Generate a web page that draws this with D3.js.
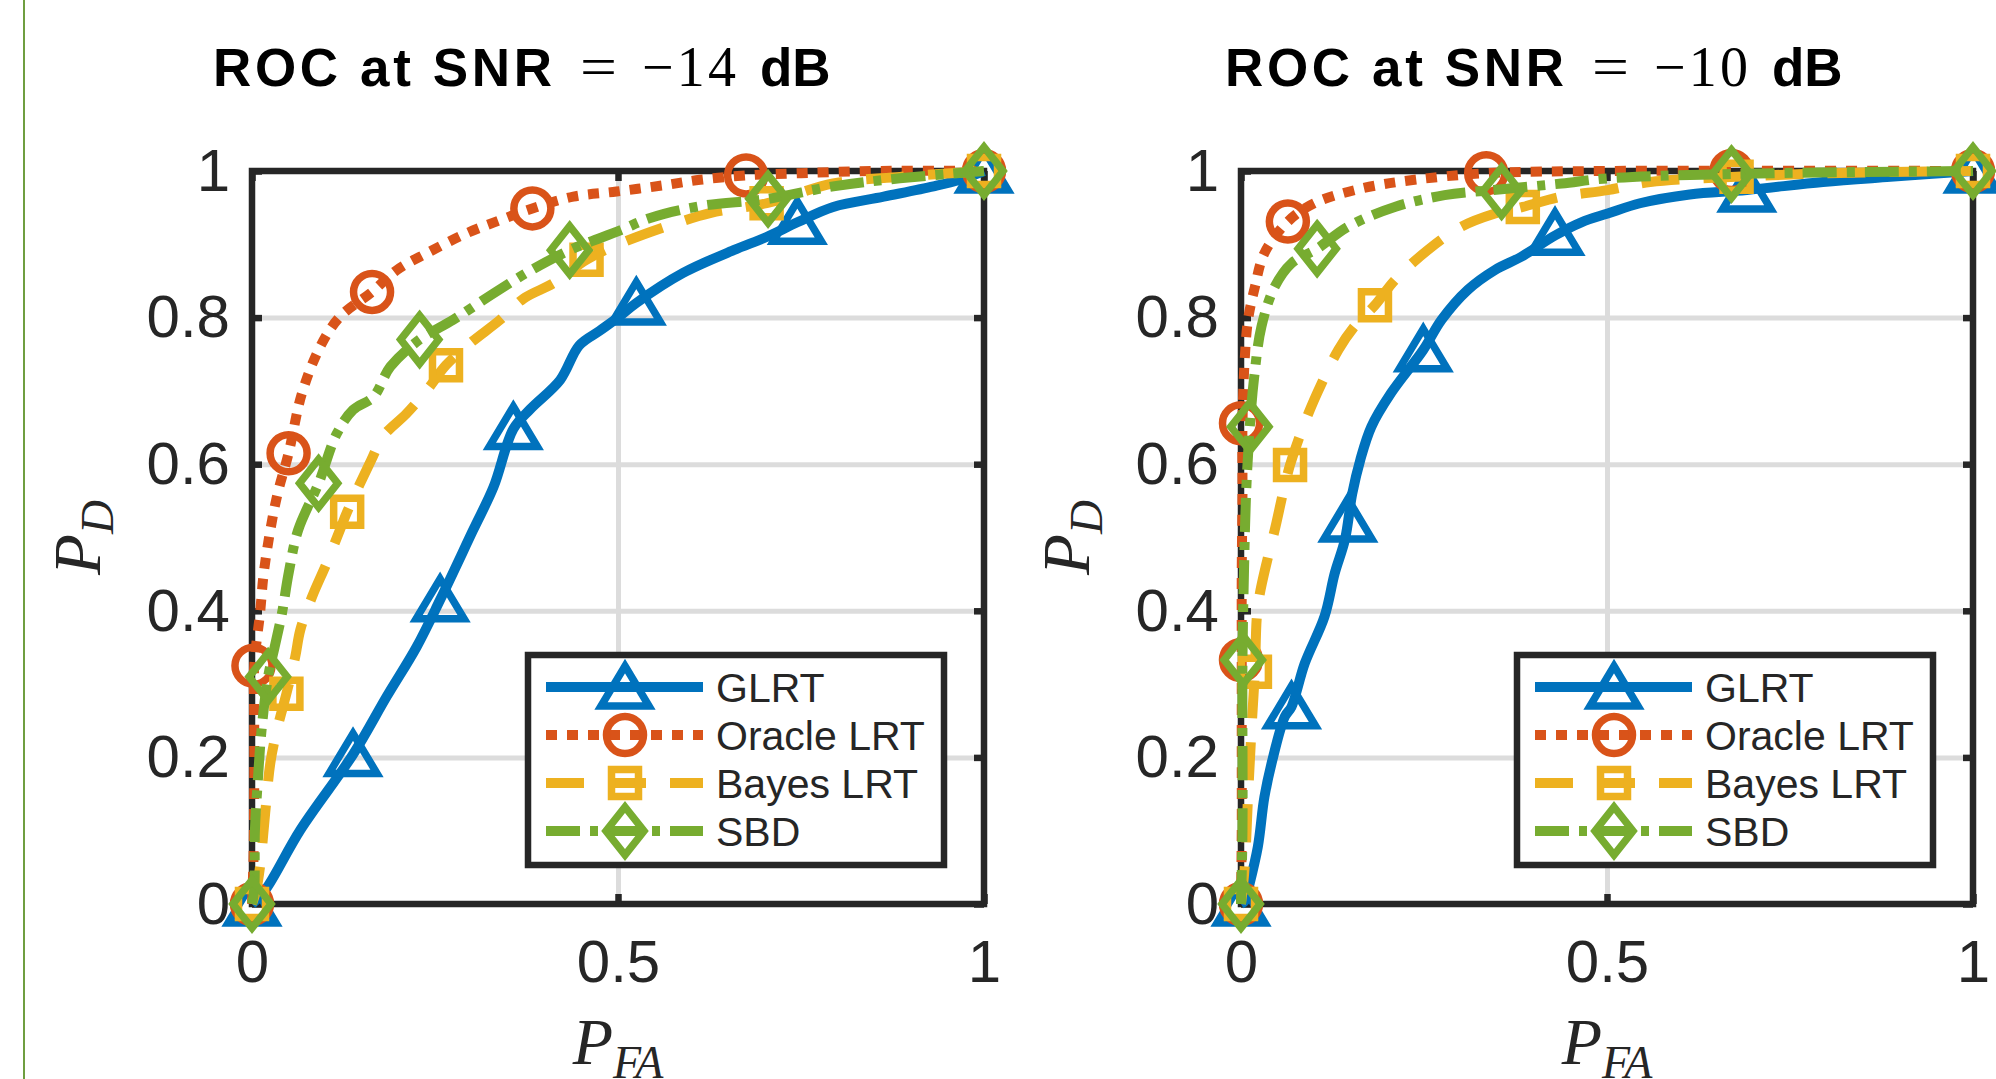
<!DOCTYPE html>
<html>
<head>
<meta charset="utf-8">
<script src="https://cdn.jsdelivr.net/npm/d3@7"></script>
<style>
  body { margin: 0; background: #fff; }
  svg { display: block; }
</style>
</head>
<body>
<script>
// ---- data (P_FA, P_D) ----
const seriesNames = ["GLRT", "Oracle LRT", "Bayes LRT", "SBD"];
const titleSnr = ["\u221214", "\u221210"];
const xTicks = [0, 0.5, 1];
const xTickLabels = ["0", "0.5", "1"];
const yTicks = [0, 0.2, 0.4, 0.6, 0.8, 1];
const yTickLabels = ["0", "0.2", "0.4", "0.6", "0.8", "1"];

// SNR = -14 dB
const glrt14 = [[0,0],[0.018,0.019],[0.066,0.101],[0.138,0.204],[0.184,0.283],[0.225,0.351],[0.257,0.415],[0.302,0.51],[0.33,0.569],[0.357,0.648],[0.38,0.675],[0.421,0.715],[0.447,0.762],[0.475,0.782],[0.5,0.8],[0.525,0.82],[0.589,0.861],[0.658,0.892],[0.703,0.91],[0.745,0.93],[0.794,0.951],[0.863,0.965],[0.931,0.979],[0.967,0.988],[1,1]];
const glrt14Marks = [[0,0],[0.138,0.204],[0.257,0.415],[0.357,0.65],[0.525,0.82],[0.745,0.93],[1,1]];
const oracle14 = [[0,0],[0.002,0.06],[0.003,0.15],[0.003,0.255],[0.003,0.325],[0.011,0.397],[0.016,0.451],[0.025,0.51],[0.035,0.56],[0.05,0.615],[0.068,0.696],[0.093,0.76],[0.12,0.801],[0.164,0.835],[0.198,0.865],[0.239,0.888],[0.293,0.915],[0.339,0.933],[0.383,0.949],[0.439,0.965],[0.498,0.972],[0.566,0.981],[0.612,0.988],[0.675,0.994],[0.75,0.997],[0.85,1],[1,1]];
const oracle14Marks = [[0,0],[0.002,0.325],[0.05,0.615],[0.164,0.835],[0.383,0.949],[0.675,0.994],[1,1]];
const bayes14 = [[0,0],[0.006,0.02],[0.011,0.051],[0.018,0.124],[0.025,0.192],[0.034,0.237],[0.047,0.287],[0.059,0.337],[0.066,0.374],[0.082,0.419],[0.102,0.465],[0.12,0.51],[0.13,0.535],[0.163,0.606],[0.179,0.638],[0.211,0.669],[0.239,0.701],[0.265,0.735],[0.298,0.765],[0.339,0.797],[0.371,0.826],[0.412,0.847],[0.457,0.879],[0.503,0.901],[0.58,0.929],[0.627,0.943],[0.703,0.956],[0.794,0.983],[0.885,0.992],[1,1]];
const bayes14Marks = [[0,0],[0.047,0.287],[0.13,0.535],[0.265,0.735],[0.457,0.879],[0.703,0.956],[1,1]];
const sbd14 = [[0,0],[0.003,0.019],[0.004,0.101],[0.008,0.169],[0.013,0.237],[0.022,0.31],[0.031,0.351],[0.041,0.397],[0.05,0.451],[0.063,0.51],[0.091,0.574],[0.116,0.642],[0.138,0.674],[0.166,0.692],[0.189,0.733],[0.229,0.77],[0.275,0.797],[0.33,0.833],[0.375,0.861],[0.434,0.892],[0.503,0.919],[0.544,0.936],[0.612,0.952],[0.705,0.962],[0.794,0.979],[0.885,0.99],[1,1]];
const sbd14Marks = [[0,0],[0.022,0.31],[0.091,0.574],[0.229,0.77],[0.434,0.892],[0.705,0.962],[1,1]];

// SNR = -10 dB
const glrt10 = [[0,0],[0.006,0.005],[0.0096,0.019],[0.023,0.078],[0.032,0.146],[0.044,0.201],[0.06,0.256],[0.069,0.269],[0.087,0.328],[0.114,0.392],[0.128,0.451],[0.142,0.497],[0.152,0.56],[0.163,0.606],[0.178,0.651],[0.205,0.697],[0.249,0.756],[0.274,0.797],[0.31,0.838],[0.347,0.865],[0.383,0.883],[0.429,0.912],[0.465,0.93],[0.501,0.942],[0.545,0.956],[0.613,0.968],[0.691,0.974],[0.795,0.985],[0.887,0.992],[1,1]];
const glrt10Marks = [[0,0],[0.069,0.269],[0.146,0.524],[0.249,0.756],[0.429,0.915],[0.691,0.974],[1,1]];
const oracle10 = [[0,0],[0.001,0.1],[0.001,0.2],[0.001,0.333],[0.001,0.45],[0.002,0.561],[0.002,0.656],[0.005,0.742],[0.0096,0.797],[0.019,0.842],[0.032,0.888],[0.064,0.931],[0.1,0.956],[0.164,0.976],[0.237,0.988],[0.335,0.997],[0.5,1],[1,1]];
const oracle10Marks = [[0,0],[0,0.333],[0,0.656],[0.064,0.931],[0.335,0.997],[0.67,1],[1,1]];
const bayes10 = [[0,0],[0.005,0.05],[0.0096,0.146],[0.015,0.25],[0.019,0.317],[0.023,0.406],[0.037,0.474],[0.046,0.51],[0.067,0.599],[0.092,0.669],[0.11,0.71],[0.133,0.756],[0.155,0.788],[0.183,0.817],[0.21,0.851],[0.255,0.892],[0.301,0.924],[0.347,0.942],[0.385,0.951],[0.438,0.965],[0.501,0.974],[0.559,0.985],[0.677,0.992],[0.8,0.997],[1,1]];
const bayes10Marks = [[0,0],[0.019,0.317],[0.067,0.599],[0.183,0.817],[0.385,0.951],[0.677,0.992],[1,1]];
const sbd10 = [[0,0],[0.002,0.1],[0.002,0.333],[0.004,0.45],[0.007,0.561],[0.012,0.651],[0.018,0.719],[0.028,0.788],[0.046,0.842],[0.069,0.874],[0.104,0.894],[0.146,0.924],[0.21,0.951],[0.278,0.967],[0.356,0.975],[0.438,0.983],[0.501,0.99],[0.67,0.996],[1,1]];
const sbd10Marks = [[0,0],[0.003,0.333],[0.012,0.651],[0.104,0.894],[0.356,0.972],[0.67,0.996],[1,1]];

// ---- styling ----
const colors = ["#0072BD", "#D95319", "#EDB120", "#77AC30"];
const dashes = [null, "11,10", "38,24", "34,10,8,10"];
const markerTypes = ["triangle", "circle", "square", "diamond"];
const axisColor = "#262626";
const gridColor = "#dcdcdc";
const sans = "'Liberation Sans', Arial, Helvetica, sans-serif";
const serif = "'Liberation Serif', 'Times New Roman', serif";

const width = 1996, height = 1079;
const plotTop = 171, plotH = 733, plotW = 732;

const svg = d3.select("body").append("svg")
  .attr("width", width)
  .attr("height", height);

svg.append("rect").attr("width", width).attr("height", height).attr("fill", "#fff");

// thin green rule at the left edge
svg.append("line")
  .attr("x1", 24).attr("x2", 24).attr("y1", 0).attr("y2", height)
  .attr("stroke", "#6f9e40").attr("stroke-width", 2);

function markerPath(type) {
  if (type === "triangle") return "M0,-21L24,19L-24,19Z";
  if (type === "square") return "M-13.5,-13.5H13.5V13.5H-13.5Z";
  return "M0,-24L19,0L0,24L-19,0Z";
}
function drawMarker(sel, type, color) {
  const m = type === "circle"
    ? sel.append("circle").attr("r", 18.5)
    : sel.append("path").attr("d", markerPath(type));
  m.attr("fill", "none")
    .attr("stroke", color)
    .attr("stroke-width", 7.5)
    .attr("stroke-linejoin", "miter");
}

const panels = [
  {left: 252, titleX: 213, snr: titleSnr[0],
   curves: [glrt14, oracle14, bayes14, sbd14],
   marks: [glrt14Marks, oracle14Marks, bayes14Marks, sbd14Marks]},
  {left: 1241, titleX: 1225, snr: titleSnr[1],
   curves: [glrt10, oracle10, bayes10, sbd10],
   marks: [glrt10Marks, oracle10Marks, bayes10Marks, sbd10Marks]}
];

panels.forEach(p => {
  const x = d3.scaleLinear().domain([0, 1]).range([p.left, p.left + plotW]);
  const y = d3.scaleLinear().domain([0, 1]).range([plotTop + plotH, plotTop]);
  const g = svg.append("g");

  // grid
  g.append("g")
    .attr("transform", `translate(0,${plotTop + plotH})`)
    .call(d3.axisBottom(x).tickValues(xTicks).tickSize(-plotH).tickFormat(""))
    .call(a => a.select(".domain").remove())
    .selectAll("line").attr("stroke", gridColor).attr("stroke-width", 5);
  g.append("g")
    .attr("transform", `translate(${p.left},0)`)
    .call(d3.axisLeft(y).tickValues(yTicks).tickSize(-plotW).tickFormat(""))
    .call(a => a.select(".domain").remove())
    .selectAll("line").attr("stroke", gridColor).attr("stroke-width", 5);

  // box
  g.append("rect")
    .attr("x", p.left).attr("y", plotTop)
    .attr("width", plotW).attr("height", plotH)
    .attr("fill", "none").attr("stroke", axisColor).attr("stroke-width", 6.5);

  // ticks (inward) and labels
  const styleAxis = a => {
    a.select(".domain").remove();
    a.selectAll("line").attr("stroke", axisColor).attr("stroke-width", 6.5);
    a.selectAll("text")
      .attr("font-family", sans).attr("font-size", 60).attr("fill", axisColor);
  };
  g.append("g")
    .attr("transform", `translate(0,${plotTop + plotH})`)
    .call(d3.axisBottom(x).tickValues(xTicks).tickSize(-10).tickPadding(35)
      .tickFormat((d, i) => xTickLabels[i]))
    .call(styleAxis);
  g.append("g")
    .attr("transform", `translate(${p.left},0)`)
    .call(d3.axisLeft(y).tickValues(yTicks).tickSize(-10).tickPadding(22)
      .tickFormat((d, i) => yTickLabels[i]))
    .call(styleAxis);
  g.append("g")
    .attr("transform", `translate(0,${plotTop})`)
    .call(d3.axisTop(x).tickValues(xTicks).tickSize(-10).tickFormat(""))
    .call(styleAxis);
  g.append("g")
    .attr("transform", `translate(${p.left + plotW},0)`)
    .call(d3.axisRight(y).tickValues(yTicks).tickSize(-10).tickFormat(""))
    .call(styleAxis);

  // curves
  const line = d3.line()
    .x(d => x(d[0]))
    .y(d => y(d[1]))
    .curve(d3.curveCatmullRom.alpha(0.5));

  p.curves.forEach((c, i) => {
    g.append("path")
      .datum(c)
      .attr("d", line)
      .attr("fill", "none")
      .attr("stroke", colors[i])
      .attr("stroke-width", 10)
      .attr("stroke-linejoin", "round")
      .attr("stroke-dasharray", dashes[i]);
    g.selectAll(null)
      .data(p.marks[i])
      .enter()
      .append("g")
      .attr("transform", d => `translate(${x(d[0])},${y(d[1])})`)
      .each(function() { drawMarker(d3.select(this), markerTypes[i], colors[i]); });
  });

  // title: sans bold words, serif math for "= -14"
  const t = g.append("text").attr("y", 86).attr("fill", "#000");
  t.append("tspan").attr("x", p.titleX)
    .attr("font-family", sans).attr("font-weight", "bold").attr("font-size", 53)
    .attr("textLength", 339).attr("lengthAdjust", "spacing")
    .text("ROC at SNR");
  t.append("tspan").attr("x", p.titleX + 367)
    .attr("font-family", serif).attr("font-size", 56)
    .attr("textLength", 37).attr("lengthAdjust", "spacingAndGlyphs")
    .text("=");
  t.append("tspan").attr("x", p.titleX + 429)
    .attr("font-family", serif).attr("font-size", 56)
    .attr("textLength", 94).attr("lengthAdjust", "spacing")
    .text(p.snr);
  t.append("tspan").attr("x", p.titleX + 547)
    .attr("font-family", sans).attr("font-weight", "bold").attr("font-size", 53)
    .text("dB");

  // axis labels
  const xl = g.append("text")
    .attr("x", p.left + plotW / 2).attr("y", 1064)
    .attr("text-anchor", "middle")
    .attr("font-family", serif).attr("font-style", "italic").attr("font-size", 66)
    .attr("fill", axisColor);
  xl.append("tspan").text("P");
  xl.append("tspan").attr("font-size", 46).attr("dy", 14).text("FA");

  const yl = g.append("text")
    .attr("transform", `translate(${p.left - 152},${plotTop + plotH / 2}) rotate(-90)`)
    .attr("text-anchor", "middle")
    .attr("font-family", serif).attr("font-style", "italic").attr("font-size", 67)
    .attr("fill", axisColor);
  yl.append("tspan").text("P");
  yl.append("tspan").attr("font-size", 47).attr("dy", 13).text("D");

  // legend
  const lg = g.append("g").attr("transform", `translate(${p.left + 276},655)`);
  lg.append("rect")
    .attr("width", 416).attr("height", 210)
    .attr("fill", "#fff").attr("stroke", axisColor).attr("stroke-width", 6.5);
  seriesNames.forEach((name, i) => {
    const row = lg.append("g").attr("transform", `translate(0,${32 + i * 48})`);
    row.append("line")
      .attr("x1", 18).attr("x2", 175)
      .attr("stroke", colors[i]).attr("stroke-width", 10)
      .attr("stroke-dasharray", dashes[i]);
    drawMarker(row.append("g").attr("transform", "translate(97,0)"), markerTypes[i], colors[i]);
    row.append("text")
      .attr("x", 188).attr("dy", "0.36em")
      .attr("font-family", sans).attr("font-size", 41).attr("fill", axisColor)
      .text(name);
  });
});
</script>
</body>
</html>
